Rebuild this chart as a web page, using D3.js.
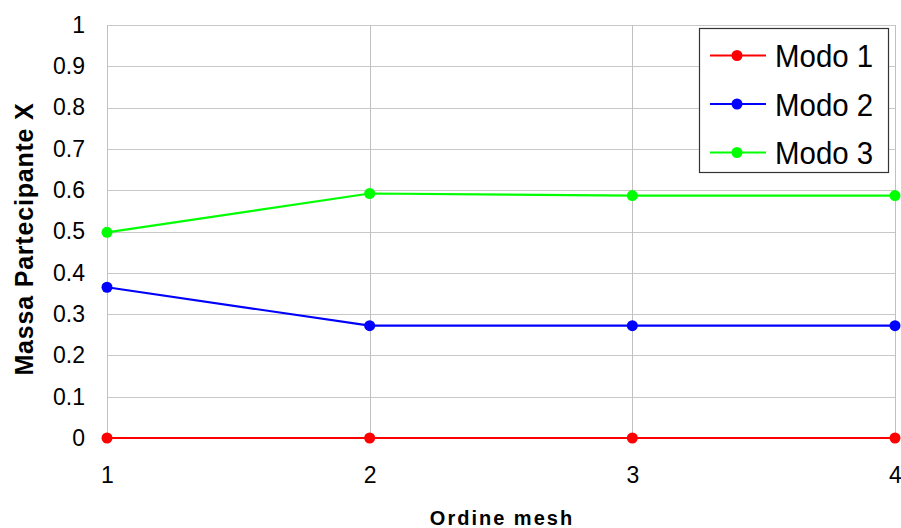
<!DOCTYPE html>
<html>
<head>
<meta charset="utf-8">
<script src="https://cdn.jsdelivr.net/npm/d3@7"></script>
<style>
  html, body { margin: 0; padding: 0; background: #fff; }
  svg { display: block; font-family: "Liberation Sans", Arial, sans-serif; }
</style>
</head>
<body>
<svg id="chart" width="901" height="528"></svg>
<script>
// Ordine mesh on the x axis
const meshOrder = [1, 2, 3, 4];
// Massa partecipante X for each mode
const modo1 = [0, 0, 0, 0];
const modo2 = [0.365, 0.272, 0.272, 0.272];
const modo3 = [0.498, 0.592, 0.587, 0.587];
const seriesNames = ["Modo 1", "Modo 2", "Modo 3"];
const seriesColors = ["#ff0000", "#0000ff", "#00ff00"];
const yTicks = [0, 0.1, 0.2, 0.3, 0.4, 0.5, 0.6, 0.7, 0.8, 0.9, 1];

const series = [modo1, modo2, modo3].map((vals, i) => ({
  name: seriesNames[i],
  color: seriesColors[i],
  points: vals.map((v, j) => ({ x: meshOrder[j], y: v }))
}));

const svg = d3.select("#chart");
const plotLeft = 107, plotRight = 895, plotTop = 25, plotBottom = 438;

const x = d3.scaleLinear().domain([1, 4]).range([plotLeft, plotRight]);
const y = d3.scaleLinear().domain([0, 1]).range([plotBottom, plotTop]);

// grid
const grid = svg.append("g");
grid.selectAll("line.h").data(yTicks).join("line")
  .attr("x1", plotLeft).attr("x2", plotRight)
  .attr("y1", d => Math.round(y(d)) + 0.5).attr("y2", d => Math.round(y(d)) + 0.5)
  .attr("stroke", "#c8c8c8").attr("stroke-width", 1);
grid.selectAll("line.v").data(meshOrder).join("line")
  .attr("y1", plotTop).attr("y2", plotBottom)
  .attr("x1", d => Math.round(x(d)) + 0.5).attr("x2", d => Math.round(x(d)) + 0.5)
  .attr("stroke", "#c0c0c0").attr("stroke-width", 1);

// axes (labels only; grid provides the lines)
const yAxis = svg.append("g")
  .attr("transform", `translate(${plotLeft},0)`)
  .call(d3.axisLeft(y).tickValues(yTicks).tickFormat(d3.format("")).tickSize(0).tickPadding(22));
yAxis.select(".domain").remove();
yAxis.selectAll("text").attr("font-size", 23).attr("fill", "#000")
  .attr("font-family", "Liberation Sans, Arial, sans-serif");

const xAxis = svg.append("g")
  .attr("transform", `translate(0,${plotBottom})`)
  .call(d3.axisBottom(x).tickValues(meshOrder).tickFormat(d3.format("d")).tickSize(0).tickPadding(29));
xAxis.select(".domain").remove();
xAxis.selectAll("text").attr("font-size", 23).attr("fill", "#000")
  .attr("font-family", "Liberation Sans, Arial, sans-serif");

// axis titles
svg.append("text")
  .attr("x", 502).attr("y", 525)
  .attr("text-anchor", "middle")
  .attr("font-size", 20).attr("font-weight", "bold")
  .attr("letter-spacing", 2)
  .text("Ordine mesh");

svg.append("text")
  .attr("transform", "translate(33,239) rotate(-90)")
  .attr("text-anchor", "middle")
  .attr("font-size", 25).attr("font-weight", "bold")
  .attr("letter-spacing", 0.8)
  .text("Massa Partecipante X");

// lines and markers
const line = d3.line().x(d => x(d.x)).y(d => y(d.y));
const plot = svg.append("g");
series.forEach(s => {
  plot.append("path").datum(s.points)
    .attr("d", line).attr("fill", "none")
    .attr("stroke", s.color).attr("stroke-width", 2.2);
  plot.selectAll(null).data(s.points).join("circle")
    .attr("cx", d => x(d.x)).attr("cy", d => y(d.y))
    .attr("r", 5.5).attr("fill", s.color);
});

// legend
const lg = svg.append("g");
lg.append("rect")
  .attr("x", 699.5).attr("y", 28.5).attr("width", 189).attr("height", 144)
  .attr("fill", "#fff").attr("stroke", "#333").attr("stroke-width", 1.2);
const rowY = [55.5, 104, 152.5];
series.forEach((s, i) => {
  const g = lg.append("g").attr("transform", `translate(0,${rowY[i]})`);
  g.append("line").attr("x1", 710).attr("x2", 766).attr("y1", 0).attr("y2", 0)
    .attr("stroke", s.color).attr("stroke-width", 2);
  g.append("circle").attr("cx", 737).attr("cy", 0).attr("r", 5.5).attr("fill", s.color);
  g.append("text")
    .attr("transform", "translate(775,0) scale(0.92,1)")
    .attr("dy", "0.36em")
    .attr("font-size", 32).attr("fill", "#000").text(s.name);
});
</script>
</body>
</html>
